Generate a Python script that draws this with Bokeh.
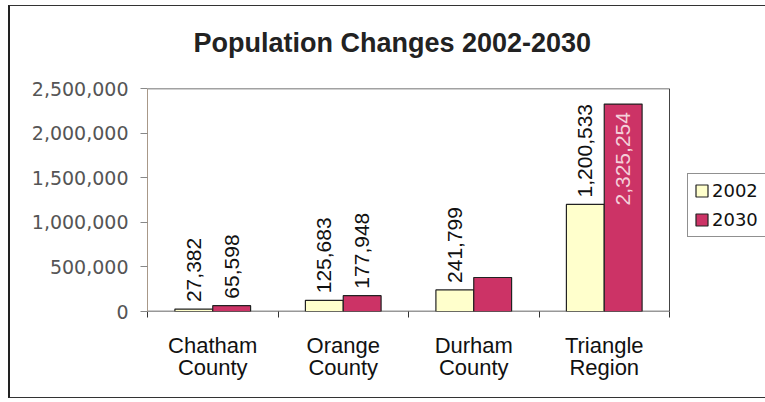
import math
from bokeh.plotting import figure
from bokeh.models import (ColumnDataSource, Range1d, FixedTicker, NumeralTickFormatter,
                          Legend, LegendItem, Title)
from bokeh.core.properties import value
from bokeh.embed import file_html
from bokeh.resources import INLINE

# ---- data ----
categories = ["Chatham\nCounty", "Orange\nCounty", "Durham\nCounty", "Triangle\nRegion"]
years = ["2002", "2030"]
pop_2002 = [27382, 125683, 241799, 1200533]
pop_2030 = [65598, 177948, 381000, 2325254]
labels_2002 = ["27,382", "125,683", "241,799", "1,200,533"]
labels_2030 = ["65,598", "177,948", "", "2,325,254"]
y_ticks = [0, 500000, 1000000, 1500000, 2000000, 2500000]
title_text = "Population Changes 2002-2030"

C2002 = "#FFFFCC"
C2030 = "#CC3366"
W = 0.29

FIG_W, FIG_H = 765, 402
LEFT, TOP, BOTTOM = 147, 88, 91
PLOT_PX = 522                      # width of the category area in pixels
n = len(categories)
xmax = n * (FIG_W - LEFT) / PLOT_PX  # frame extends to the right edge (legend area)

xc = [i + 0.5 for i in range(n)]
x02 = [x - W / 2 for x in xc]
x30 = [x + W / 2 for x in xc]

src02 = ColumnDataSource(dict(x=x02, top=pop_2002, lab=labels_2002))
src30 = ColumnDataSource(dict(x=x30, top=pop_2030, lab=labels_2030))

ymax = y_ticks[-1]
p = figure(width=FIG_W, height=FIG_H, output_backend="svg", toolbar_location=None,
           x_range=Range1d(0, xmax), y_range=Range1d(0, ymax),
           min_border_left=LEFT, min_border_right=0, min_border_top=TOP,
           min_border_bottom=BOTTOM, title=None)
p.background_fill_color = "white"
p.border_fill_color = "white"
p.grid.visible = False
p.outline_line_color = None

# spacer + title (later titles are stacked farther from the frame)
p.add_layout(Title(text=" ", text_font_size="12px"), "above")
p.add_layout(Title(text=title_text, align="left", offset=46,
                   text_font="Liberation Sans", text_font_size="27px",
                   text_font_style="bold", text_color="#222222"), "above")

# plot-area border (top and right) and baseline
p.line(x=[0, n], y=[ymax, ymax], line_color="#444444", line_width=1.5)
p.line(x=[n, n], y=[0, ymax], line_color="#444444", line_width=1)
p.line(x=[0, n], y=[0, 0], line_color="#333333", line_width=1.5)

r02 = p.vbar(x="x", top="top", width=W, source=src02, fill_color=C2002,
             line_color="#222222", line_width=1.2)
r30 = p.vbar(x="x", top="top", width=W, source=src30, fill_color=C2030,
             line_color="#222222", line_width=1.2)

# value labels
lab_font = value("Liberation Sans")
p.text(x="x", y="top", text="lab", source=src02, angle=math.pi / 2,
       text_align="left", text_baseline="middle", y_offset=-7,
       text_font=lab_font, text_font_size="21px", text_color="#111111")
out30 = dict(x=[], top=[], lab=[])
in30 = dict(x=[], top=[], lab=[])
for x, t, l in zip(x30, pop_2030, labels_2030):
    d = in30 if t > 0.8 * ymax else out30
    d["x"].append(x); d["top"].append(t); d["lab"].append(l)
p.text(x="x", y="top", text="lab", source=ColumnDataSource(out30), angle=math.pi / 2,
       text_align="left", text_baseline="middle", y_offset=-7,
       text_font=lab_font, text_font_size="21px", text_color="#111111")
p.text(x="x", y="top", text="lab", source=ColumnDataSource(in30), angle=math.pi / 2,
       text_align="right", text_baseline="middle", y_offset=8,
       text_font=lab_font, text_font_size="21px", text_color="#F4D0DA")

# y axis
ya = p.yaxis[0]
ya.ticker = FixedTicker(ticks=y_ticks)
ya.formatter = NumeralTickFormatter(format="0,0")
ya.major_label_text_font = "DejaVu Sans"
ya.major_label_text_font_size = "19px"
ya.major_label_text_color = "#555555"
ya.axis_line_color = "#A89888"
ya.major_tick_line_color = "#888888"
ya.major_tick_out = 7
ya.major_tick_in = 0
ya.minor_tick_line_color = None
ya.major_label_standoff = 12

# x axis: labels at category centres, separators at boundaries
xa = p.xaxis[0]
xa.ticker = FixedTicker(ticks=xc, minor_ticks=list(range(n + 1)))
xa.major_label_overrides = {x: c for x, c in zip(xc, categories)}
xa.major_label_text_font = "Liberation Sans"
xa.major_label_text_font_size = "22px"
xa.major_label_text_line_height = 0.9
xa.major_label_text_color = "#111111"
xa.major_tick_line_color = None
xa.major_tick_out = 0
xa.major_tick_in = 0
xa.minor_tick_out = 6
xa.minor_tick_in = 0
xa.minor_tick_line_color = "#333333"
xa.axis_line_color = None
xa.major_label_standoff = 15

legend = Legend(items=[LegendItem(label=years[0], renderers=[r02]),
                       LegendItem(label=years[1], renderers=[r30])],
                location=(540, 74))
legend.label_text_font = "DejaVu Sans"
legend.label_text_font_size = "18px"
legend.label_text_color = "#111111"
legend.glyph_width = 15
legend.glyph_height = 15
legend.label_standoff = 3
legend.label_width = 60
legend.spacing = 8
legend.padding = 6
legend.margin = 0
legend.border_line_color = "#222222"
legend.border_line_width = 1
legend.background_fill_alpha = 1
p.add_layout(legend, "center")

html = file_html(p, INLINE)
frame_div = ("<style>html,body{overflow:hidden}</style>"
             "<div style=\"position:absolute;left:8px;top:5px;width:790px;height:391px;"
             "border-left:2px solid #222;border-top:1px solid #333;border-bottom:1px solid #333;"
             "border-right:0;pointer-events:none;z-index:10\"></div>")
html = html.replace("</body>", frame_div + "</body>")
open("out.html", "w").write(html)
